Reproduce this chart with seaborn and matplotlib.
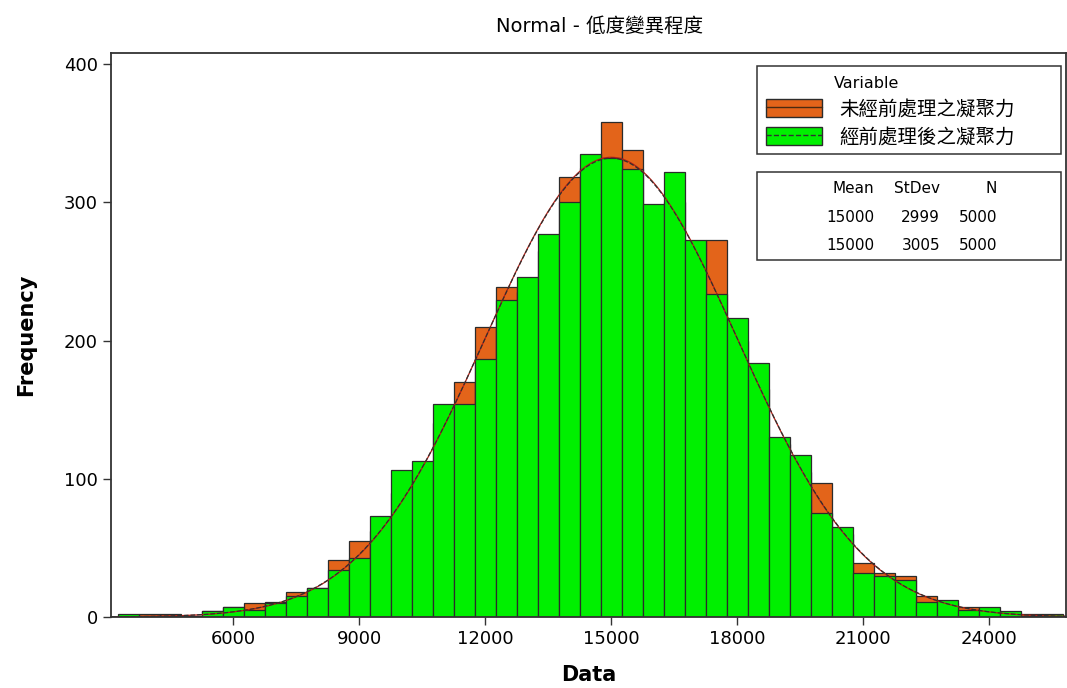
import numpy as np
import pandas as pd
import matplotlib
matplotlib.use("Agg")
import matplotlib.pyplot as plt
import seaborn as sns
from matplotlib.patches import Rectangle, Patch
from matplotlib.lines import Line2D

sns.set_theme(style="white")
plt.rcParams['font.family'] = ['DejaVu Sans', 'Noto Sans CJK TC']
plt.rcParams['axes.unicode_minus'] = False
plt.rcParams['text.color'] = 'black'
plt.rcParams['axes.labelcolor'] = 'black'
plt.rcParams['xtick.color'] = 'black'
plt.rcParams['ytick.color'] = 'black'

# ---- data (bin width 500) ----
bin_centers = [3500, 4000, 4500, 5000, 5500, 6000, 6500, 7000, 7500, 8000,
               8500, 9000, 9500, 10000, 10500, 11000, 11500, 12000, 12500, 13000,
               13500, 14000, 14500, 15000, 15500, 16000, 16500, 17000, 17500, 18000,
               18500, 19000, 19500, 20000, 20500, 21000, 21500, 22000, 22500, 23000,
               23500, 24000, 24500, 25000, 25500]
raw_counts = [1, 2, 2, 1, 4, 7, 10, 11, 18, 21,
              41, 55, 62, 90, 105, 140, 170, 210, 239, 235,
              265, 318, 325, 358, 338, 280, 300, 255, 273, 200,
              165, 125, 105, 97, 60, 39, 32, 30, 15, 10,
              7, 5, 3, 2, 1]
treated_counts = [2, 1, 1, 1, 4, 7, 5, 10, 15, 21,
                  34, 43, 73, 106, 113, 154, 154, 187, 229, 246,
                  277, 300, 335, 332, 324, 299, 322, 273, 234, 216,
                  184, 130, 117, 75, 65, 32, 30, 27, 11, 12,
                  5, 7, 4, 1, 2]

series_names = ['未經前處理之凝聚力', '經前處理後之凝聚力']
means = [15000, 15000]
stdevs = [2999, 3005]
ns = [5000, 5000]
bin_width = 500

x_ticks = [6000, 9000, 12000, 15000, 18000, 21000, 24000]
y_ticks = [0, 100, 200, 300, 400]

ORANGE = '#E3641A'
GREEN = '#00F000'
EDGE = '#2b2b2b'

W, H = 1067, 688


def fx(x):
    return x / W


def fy(y):
    return 1 - y / H


fig = plt.figure(figsize=(W / 100, H / 100), dpi=100)
ax = fig.add_axes([fx(111), fy(617), (1066 - 111) / W, (617 - 53) / H])

edges = [c - bin_width / 2 for c in bin_centers] + [bin_centers[-1] + bin_width / 2]
df = pd.DataFrame({'x': bin_centers, 'raw': raw_counts, 'treated': treated_counts})

sns.histplot(data=df, x='x', weights='raw', bins=edges, color=ORANGE, alpha=1,
             edgecolor=EDGE, linewidth=0.9, ax=ax)
sns.histplot(data=df, x='x', weights='treated', bins=edges, color=GREEN, alpha=1,
             edgecolor=EDGE, linewidth=0.9, ax=ax)

# fitted normal curves from the displayed Mean / StDev / N
xs = np.linspace(3090, 25830, 400)
fit_styles = [dict(color='#B81E14', linestyle='-'), dict(color='#303030', linestyle='--')]
for m, s, n, st in zip(means, stdevs, ns, fit_styles):
    ys = n * bin_width * np.exp(-0.5 * ((xs - m) / s) ** 2) / (s * np.sqrt(2 * np.pi))
    sns.lineplot(x=xs, y=ys, ax=ax, linewidth=0.9, **st)

ax.set_xlim(3090, 25830)
ax.set_ylim(0, 408)
ax.set_xticks(x_ticks)
ax.set_yticks(y_ticks)
ax.tick_params(axis='both', direction='out', length=6, width=1, color='#333333',
               labelsize=13, bottom=True, left=True)
for sp in ax.spines.values():
    sp.set_color('#333333')
    sp.set_linewidth(1.3)
ax.set_xlabel('Data', fontsize=15, fontweight='bold', labelpad=12)
ax.set_ylabel('Frequency', fontsize=15, fontweight='bold', labelpad=20)
ax.grid(False)

fig.text(fx(600), fy(26), 'Normal - 低度變異程度', ha='center', va='center', fontsize=14)

# legend box
fig.patches.append(Rectangle((fx(757), fy(154)), (1061 - 757) / W, (154 - 66) / H,
                             transform=fig.transFigure, fill=False, edgecolor='#333333',
                             linewidth=1.1))
fig.text(fx(834), fy(84), 'Variable', ha='left', va='center', fontsize=11.5)
handles = [(Patch(facecolor=ORANGE, edgecolor=EDGE, linewidth=1),
            Line2D([], [], color='#4a2a10', linestyle='-', linewidth=1)),
           (Patch(facecolor=GREEN, edgecolor=EDGE, linewidth=1),
            Line2D([], [], color='#303030', linestyle='--', linewidth=1))]
fig.legend(handles, series_names, loc='upper left', bbox_to_anchor=(fx(766), fy(99)),
           frameon=False, fontsize=14, handlelength=2.9, handleheight=1.05,
           handletextpad=0.85, labelspacing=0.42, borderpad=0, borderaxespad=0)

# statistics box
fig.patches.append(Rectangle((fx(757), fy(260)), (1061 - 757) / W, (260 - 172) / H,
                             transform=fig.transFigure, fill=False, edgecolor='#333333',
                             linewidth=1.1))
col_x = [874, 940, 997]
fig.text(fx(col_x[0]), fy(189), 'Mean', ha='right', va='center', fontsize=11)
fig.text(fx(col_x[1]), fy(189), 'StDev', ha='right', va='center', fontsize=11)
fig.text(fx(col_x[2]), fy(189), 'N', ha='right', va='center', fontsize=11)
for i, row_y in enumerate([217, 245]):
    vals = [means[i], stdevs[i], ns[i]]
    for cx, v in zip(col_x, vals):
        fig.text(fx(cx), fy(row_y), str(v), ha='right', va='center', fontsize=11)

fig.savefig('out.png', dpi=100, facecolor='white')
